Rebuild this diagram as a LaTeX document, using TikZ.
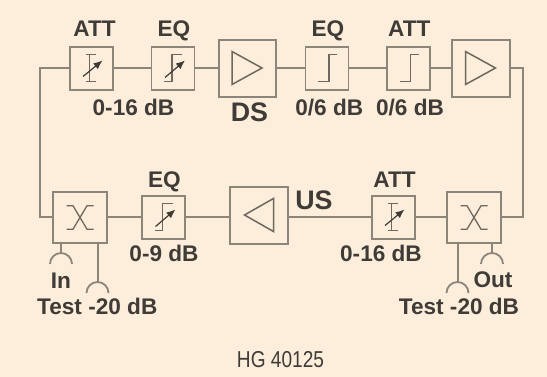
\documentclass[tikz,border=0pt]{standalone}
\usepackage{fontspec}
\setmainfont{Liberation Sans}
\newfontfamily\narrowfont[FakeStretch=0.83]{Liberation Sans}
\usetikzlibrary{arrows.meta,calc}
\definecolor{bgc}{HTML}{FDEEDC}
\definecolor{linec}{HTML}{8C857A}
\definecolor{symc}{HTML}{6E685F}
\definecolor{txt}{HTML}{3F3B37}
\newcommand{\lblfont}{\fontsize{22.6}{24}\selectfont\bfseries}
\newcommand{\bigfont}{\fontsize{26.8}{30}\selectfont\bfseries}
\tikzset{
  x=1pt,y=-1pt,
  wire/.style={draw=linec,line width=2pt},
  smallbox/.style={draw=linec,line width=1.9pt,minimum width=43pt,minimum height=43pt,inner sep=0pt,outer sep=0pt},
  ampbox/.style={draw=linec,line width=1.9pt,minimum width=57.5pt,minimum height=56.5pt,inner sep=0pt,outer sep=0pt},
  cplbox/.style={draw=linec,line width=1.9pt,minimum width=53.5pt,minimum height=51pt,inner sep=0pt,outer sep=0pt},
  sym/.style={draw=symc,line width=1.3pt},
  tri/.style={draw=symc,line width=1.5pt,line join=miter},
  varrow/.style={draw=txt,line width=1.2pt,-{Latex[length=9pt,width=7.5pt]}},
  lbl/.style={text=txt,font=\lblfont,inner sep=0pt,anchor=base},
  biglbl/.style={text=txt,font=\bigfont,inner sep=0pt,anchor=base},
  plug/.style={draw=linec,line width=1.8pt}
}
\begin{document}
\begin{tikzpicture}
\useasboundingbox (0,0) rectangle (547,377);
\fill[bgc] (0,0) rectangle (547,377);
% boxes
\node[smallbox] (att1) at (91.5,68.5) {};
\node[smallbox] (eq1) at (173,68.5) {};
\node[ampbox] (ds) at (247.5,68.5) {};
\node[smallbox] (eq2) at (327,68.5) {};
\node[smallbox] (att2) at (408.5,68.5) {};
\node[ampbox] (amp2) at (481,68.5) {};
\node[cplbox] (cplr) at (474,217.5) {};
\node[smallbox] (att3) at (393.5,217.5) {};
\node[ampbox] (us) at (259,215.5) {};
\node[smallbox] (eq3) at (163.5,217.5) {};
\node[cplbox] (cpll) at (80,217.5) {};
\coordinate (cnl) at (40,68.5);
\coordinate (cnr) at (523,68.5);
% wires
\draw[wire] (att1) -- (eq1);
\draw[wire] (eq1) -- (eq1 -| ds.west);
\draw[wire] (eq2 -| ds.east) -- (eq2);
\draw[wire] (eq2) -- (att2);
\draw[wire] (att2) -- (att2 -| amp2.west);
\draw[wire,line join=miter] (att1.west) -- (cnl) -- (cnl |- cpll) -- (cpll.west);
\draw[wire,line join=miter] (amp2.east) -- (cnr) -- (cnr |- cplr) -- (cplr.east);
\draw[wire] (cplr.west) -- (att3.east);
\draw[wire] (att3.west) -- (att3 -| us.east);
\draw[wire] (eq3 -| us.west) -- (eq3.east);
\draw[wire] (eq3.west) -- (cpll.east);
% symbols
\begin{scope}[shift={(att1.center)}]
  \draw[sym] (-6,-14.3) -- (4,-14.3) (-2,-14.3) -- (-2,13) (-6,13) -- (4,13);
  \draw[varrow] (-8.5,8) -- (11,-8);
\end{scope}
\begin{scope}[shift={(eq1.center)}]
  \draw[sym] (9,-14) -- (-1,-14) -- (-1,13) -- (-9,13);
  \draw[varrow] (-8,9) -- (12,-8);
\end{scope}
\begin{scope}[shift={(eq2.center)}]
  \draw[sym] (10,-14) -- (2,-14) -- (2,13) -- (-9,13);
\end{scope}
\begin{scope}[shift={(att2.center)}]
  \draw[sym] (10,-14) -- (2,-14) -- (2,13) -- (-9,13);
\end{scope}
\begin{scope}[shift={(att3.center)}]
  \draw[sym] (-6,-14.3) -- (4,-14.3) (-2,-14.3) -- (-2,13) (-6,13) -- (4,13);
  \draw[varrow] (-8.5,8) -- (11,-8);
\end{scope}
\begin{scope}[shift={(eq3.center)}]
  \draw[sym] (9,-14) -- (-1,-14) -- (-1,13) -- (-9,13);
  \draw[varrow] (-8,9) -- (12,-8);
\end{scope}
\draw[tri] ($(ds.center)+(-15.5,-17)$) -- ++(0,33) -- ++(30,-16.5) -- cycle;
\draw[tri] ($(amp2.center)+(-15.5,-17)$) -- ++(0,33) -- ++(30,-16.5) -- cycle;
\draw[tri] ($(us.center)+(14.5,-17)$) -- ++(0,33) -- ++(-29,-16.5) -- cycle;
\foreach \c in {cpll,cplr}{
  \draw[sym] ($(\c.center)+(-13.5,-11.7)$) -- ++(6.5,0) -- ++(14,23.4) -- ++(6.5,0);
  \draw[sym] ($(\c.center)+(13.5,-11.7)$) -- ++(-6.5,0) -- ++(-14,23.4) -- ++(-6.5,0);
}
% stubs and plugs
\coordinate (pin) at (61,253);
\coordinate (ptl) at (97.5,282);
\coordinate (ptr) at (457.5,282);
\coordinate (pout) at (492,253);
\foreach \p/\b in {pin/cpll,ptl/cpll,ptr/cplr,pout/cplr}{
  \draw[wire] (\b.south -| \p) -- (\p);
  \draw[plug] ($(\p)+(-11,11)$) arc[start angle=180,end angle=0,x radius=11,y radius=-11];
}
% labels
\node[lbl] (l1) at (94.5,37) {ATT};
\node[lbl] (l2) at (174,37) {EQ};
\node[lbl] (l3) at (328,37) {EQ};
\node[lbl] (l4) at (409.3,37) {ATT};
\node[lbl] (l5) at (133.5,115.5) {0-16 dB};
\node[biglbl] (l6) at (249.5,122) {DS};
\node[lbl] (l7) at (329.3,115.5) {0/6 dB};
\node[lbl] (l8) at (410,115.5) {0/6 dB};
\node[lbl] (l9) at (164.5,188) {EQ};
\node[biglbl] (l10) at (314,209.5) {US};
\node[lbl] (l11) at (394.5,188) {ATT};
\node[lbl] (l12) at (164,261.5) {0-9 dB};
\node[lbl] (l13) at (381,261.5) {0-16 dB};
\node[lbl] (l14) at (61,288) {In};
\node[lbl] (l15) at (493,287.5) {Out};
\node[lbl] (l16) at (97.3,315) {Test -20 dB};
\node[lbl] (l17) at (459,315) {Test -20 dB};
\node[text=txt,font=\narrowfont\fontsize{23}{26}\selectfont,inner sep=0pt] (l18) at (280.5,360) {HG 40125};
\end{tikzpicture}
\end{document}
